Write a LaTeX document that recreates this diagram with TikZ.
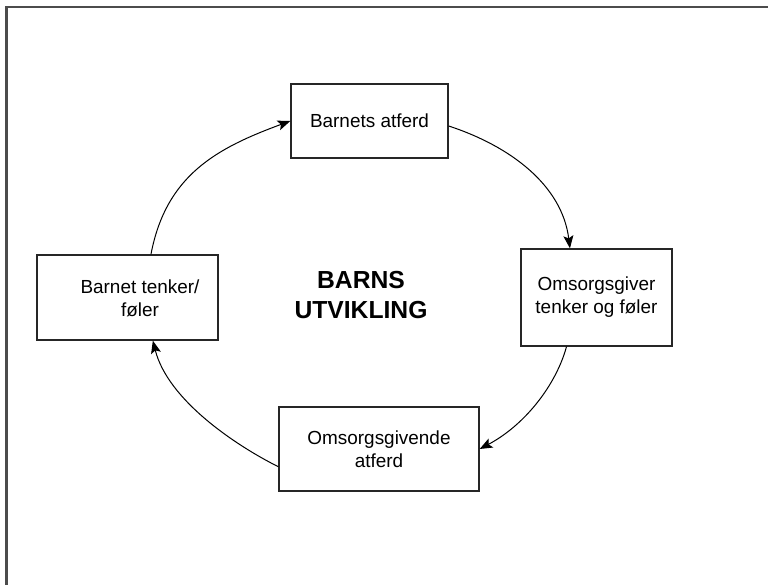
\documentclass[tikz,border=0pt]{standalone}
\usepackage{fontspec}
\setmainfont{Liberation Sans}
\usetikzlibrary{arrows.meta}
\tikzset{
  box/.style={draw=black!85, line width=1pt, fill=white, inner sep=0pt, align=center,
    font=\fontsize{14.2}{17.2}\selectfont},
  conn/.style={draw=black, line width=0.75pt, -{Stealth[length=9.5pt,width=7.5pt,inset=2pt]}},
  frame/.style={draw=black!70, line width=1.6pt},
  titletext/.style={align=center, font=\fontsize{18.5}{22.5}\selectfont\bfseries}
}
\begin{document}
\begin{tikzpicture}[x=0.75pt,y=-0.75pt]
\useasboundingbox (0,0) rectangle (768,585);
\draw[frame] (6.5,590) -- (6.5,7) -- (775,7);

\node[box, minimum width=117.75pt, minimum height=55.5pt] (A) at (369.5,121) {Barnets atferd};
\node[box, minimum width=113.25pt, minimum height=72.75pt] (B) at (596.5,297.5) {Omsorgsgiver\\tenker og føler};
\node[box, minimum width=150pt, minimum height=63pt] (C) at (379,449) {Omsorgsgivende\\atferd};
\node[box, minimum width=135.75pt, minimum height=63.75pt] (D) at (127.5,297.5) {};
\node[box, draw=none, fill=none] (Dt) at (140,298.5) {Barnet tenker/\\føler};

\node[titletext] (T) at (361,295) {BARNS\\UTVIKLING};

\draw[conn] ([xshift=17.6pt]D.north) .. controls (166,175) and (217,148) .. (A.west);
\draw[conn] ([yshift=-3.75pt]A.east) .. controls (510,146) and (562,185) .. ([xshift=-19.9pt]B.north);
\draw[conn] ([xshift=-22.5pt]B.south) .. controls (556,385) and (525,425) .. (C.east);
\draw[conn] ([yshift=-13.3pt]C.west) .. controls (235,445) and (168,400) .. ([xshift=19pt]D.south);
\end{tikzpicture}
\end{document}
